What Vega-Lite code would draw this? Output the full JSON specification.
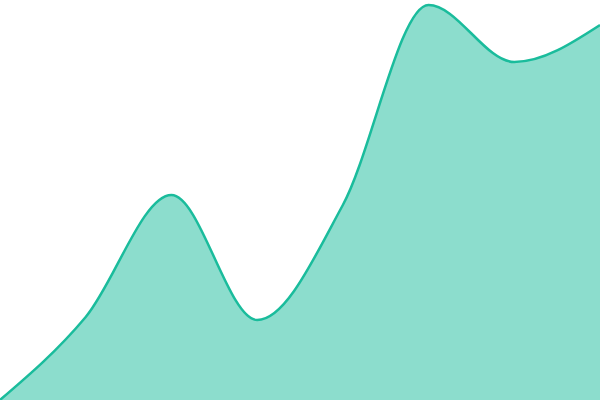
{
  "$schema": "https://vega.github.io/schema/vega-lite/v6.json",
  "width": 600,
  "height": 400,
  "autosize": {"type": "none"},
  "padding": 0,
  "config": {"view": {"stroke": null}},
  "data": {
    "values": [
      {"step": 0, "value": 0},
      {"step": 1, "value": 83},
      {"step": 2, "value": 205},
      {"step": 3, "value": 80},
      {"step": 4, "value": 195},
      {"step": 5, "value": 395},
      {"step": 6, "value": 338},
      {"step": 7, "value": 375}
    ]
  },
  "mark": {
    "type": "area",
    "interpolate": "monotone",
    "color": "#1abc9c",
    "fillOpacity": 0.5,
    "line": {"color": "#1abc9c", "strokeWidth": 2.5}
  },
  "encoding": {
    "x": {"field": "step", "type": "quantitative", "axis": null, "scale": {"domain": [0, 7], "nice": false}},
    "y": {"field": "value", "type": "quantitative", "axis": null, "scale": {"domain": [0, 400], "nice": false}}
  }
}
